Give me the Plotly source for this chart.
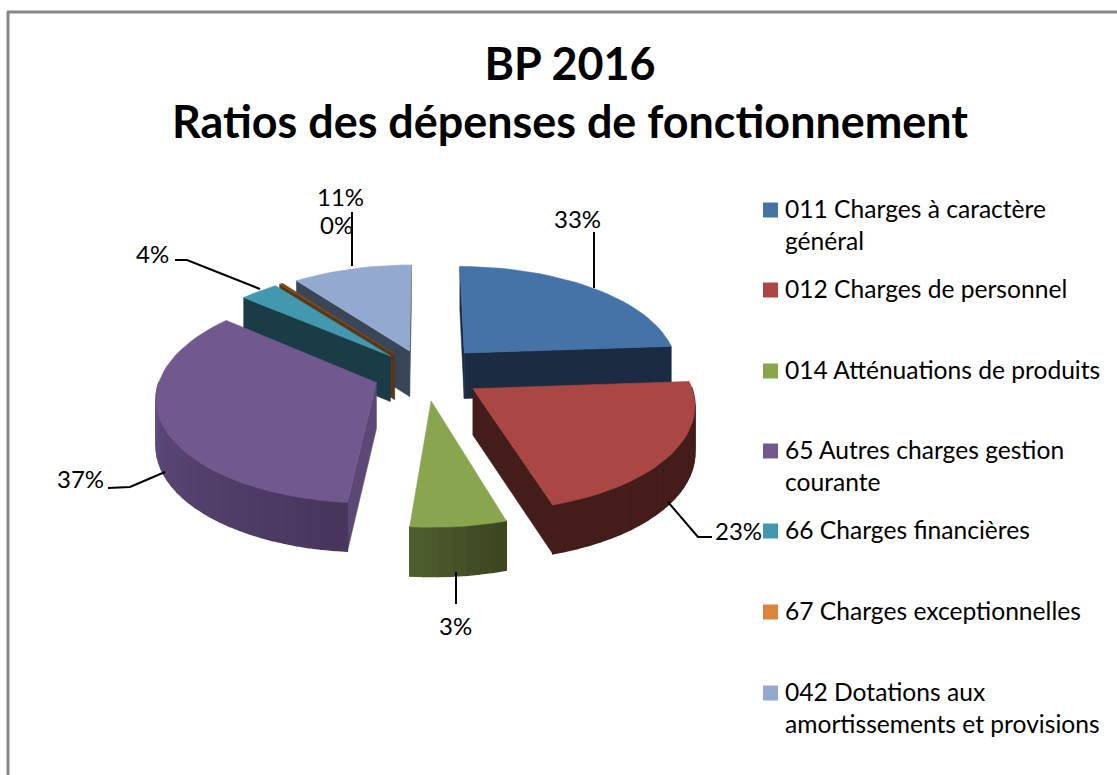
import math
import plotly.graph_objects as go

# ---- data ----
categories = ["011 Charges à caractère général", "012 Charges de personnel",
              "014 Atténuations de produits", "65 Autres charges gestion courante",
              "66 Charges financières", "67 Charges exceptionnelles",
              "042 Dotations aux amortissements et provisions"]
legend_lines = [["011 Charges à caractère", "général"], ["012 Charges de personnel"],
                ["014 Atténuations de produits"], ["65 Autres charges gestion", "courante"],
                ["66 Charges financières"], ["67 Charges exceptionnelles"],
                ["042 Dotations aux", "amortissements et provisions"]]
printed_pct = [33, 23, 3, 37, 4, 0, 11]
# share of the circle each slice actually occupies in the drawing
slice_share = [23.9, 21.39, 6.1, 34.72, 3.33, 0.28, 10.28]
explode = [59, 57, 57, 52, 51, 51, 50]
top_color = ["#4572A7", "#AA4643", "#89A54E", "#71588F", "#4198AF", "#7A4A20", "#93A9CF"]
key_color = ["#4572A7", "#AA4643", "#89A54E", "#71588F", "#4198AF", "#DB843D", "#93A9CF"]
side_color = ["#1A2B42", "#441C1A", "#46572B", "#5D4875", "#1A3C46", "#5A3618", "#3B4558"]
rim_from = [(26, 43, 66), (68, 28, 26), (82, 97, 50), (97, 77, 128), (26, 60, 70), (90, 54, 24), (59, 69, 88)]
rim_to = [(26, 43, 66), (68, 28, 26), (60, 70, 32), (72, 54, 92), (26, 60, 70), (90, 54, 24), (59, 69, 88)]

CX, CY, R, K, PERSP, DEPTH = 425, 373, 215, 0.476, 0.128, 46


def project(X, Y, Z=0.0):
    s = 1 / (1 + PERSP * Y / R)
    return CX + X * s, CY - K * Y * s + Z * s ** 0.4


fig = go.Figure()


def poly(points, color, width=0.6):
    fig.add_trace(go.Scatter(x=[p[0] for p in points] + [points[0][0]],
                             y=[p[1] for p in points] + [points[0][1]],
                             mode="lines", fill="toself", fillcolor=color,
                             line=dict(color=color, width=width),
                             hoverinfo="skip", showlegend=False))


# angular extents
bounds = []
a = 0.0
for v in slice_share:
    bounds.append((a, a + v * 3.6))
    a += v * 3.6

for i in [6, 5, 4, 0, 3, 2, 1]:
    a0, a1 = bounds[i]
    mid = math.radians((a0 + a1) / 2)
    ox, oy = explode[i] * math.sin(mid), explode[i] * math.cos(mid)
    n = max(2, int((a1 - a0) / 3) + 1)
    thetas = [math.radians(a0 + (a1 - a0) * j / (n - 1)) for j in range(n)]
    rim = [(ox + R * math.sin(t), oy + R * math.cos(t)) for t in thetas]

    # radial faces that look towards the viewer
    if math.cos(math.radians(a0 - 90)) <= 0.01:
        e = rim[0]
        poly([project(ox, oy), project(*e), project(e[0], e[1], DEPTH), project(ox, oy, DEPTH)], side_color[i])
    if math.cos(math.radians(a1 + 90)) <= 0.01:
        e = rim[-1]
        poly([project(ox, oy), project(*e), project(e[0], e[1], DEPTH), project(ox, oy, DEPTH)], side_color[i])

    # outer wall with a gradient from left to right
    for j in range(n - 1):
        if math.cos((thetas[j] + thetas[j + 1]) / 2) < 0:
            x0, x1 = rim[j], rim[j + 1]
            f = 0.0
            if i == 2:
                f = (a1 - math.degrees(thetas[j])) / (a1 - a0)
            elif i == 3:
                f = 1 - (math.degrees(thetas[j]) - a0) / (270 - a0)
            c = tuple(int(rim_from[i][q] + (rim_to[i][q] - rim_from[i][q]) * f) for q in range(3))
            poly([project(*x0), project(*x1), project(x1[0], x1[1], DEPTH), project(x0[0], x0[1], DEPTH)],
                 "rgb(%d,%d,%d)" % c, width=1.4)

    # top face
    poly([project(ox, oy)] + [project(*p) for p in rim], top_color[i])

# leader lines (black)
leaders = [[(594, 232), (594, 288)], [(668, 502), (698, 537), (712, 537)], [(456, 572), (456, 604)],
           [(108, 488), (130, 487), (165, 472)], [(175, 260), (187, 260), (260, 289)],
           [(352, 212), (352, 266)]]
for pts in leaders:
    fig.add_trace(go.Scatter(x=[p[0] for p in pts], y=[p[1] for p in pts], mode="lines",
                             line=dict(color="black", width=2), hoverinfo="skip", showlegend=False))

FONT = "Lato, Carlito, Calibri, sans-serif"
annotations = []
label_pos = [(577, 218), (738, 530), (455, 625), (80, 478), (152, 253), (336, 224), (340, 196)]
for pct, (x, y) in zip(printed_pct, label_pos):
    annotations.append(dict(x=x, y=y, xref="x", yref="y", text=f"{pct}%", showarrow=False,
                            xanchor="center", yanchor="middle",
                            font=dict(family=FONT, size=24, color="black")))

# legend column: colour keys and their text
legend_y = [210, 290, 371, 451, 531, 612, 693]
for name, lines, col, y in zip(categories, legend_lines, key_color, legend_y):
    fig.add_trace(go.Scatter(x=[770.5], y=[y], mode="markers", name=name,
                             marker=dict(symbol="square", size=15, color=col),
                             showlegend=False, hoverinfo="name"))
    for j, line in enumerate(lines):
        annotations.append(dict(x=783, y=y - 2 + 32 * j, xref="x", yref="y", text=line, showarrow=False,
                                xanchor="left", yanchor="middle",
                                font=dict(family=FONT, size=24.6, color="black")))

fig.update_layout(
    width=1117, height=775, margin=dict(l=0, r=0, t=0, b=0),
    paper_bgcolor="white", plot_bgcolor="white", showlegend=False,
    xaxis=dict(range=[0, 1117], visible=False, fixedrange=True),
    yaxis=dict(range=[775, 0], visible=False, fixedrange=True),
    title=dict(text="BP 2016<br>Ratios des dépenses de fonctionnement",
               x=570 / 1117, xanchor="center", y=1 - 80 / 775, yanchor="middle",
               font=dict(family=FONT, size=44.9, color="black", weight="bold")),
    annotations=annotations,
    shapes=[dict(type="line", xref="x", yref="y", x0=8, x1=8, y0=12, y1=775, line=dict(color="#868686", width=3)),
            dict(type="line", xref="x", yref="y", x0=7, x1=1117, y0=12, y1=12, line=dict(color="#868686", width=3))],
)
fig.write_html("out.html", config={"displayModeBar": False},
               post_script="document.body.style.margin='0';document.documentElement.style.overflow='hidden';")
